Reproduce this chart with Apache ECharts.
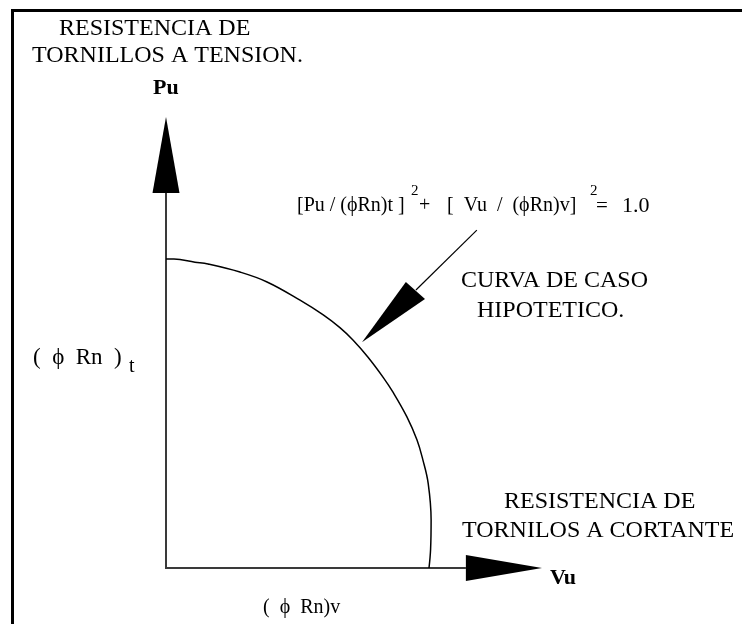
<!DOCTYPE html>
<html>
<head>
<meta charset="utf-8">
<script src="https://cdn.jsdelivr.net/npm/echarts@6/dist/echarts.min.js"></script>
<style>
  html, body { margin: 0; padding: 0; background: #ffffff; }
  #chart { width: 742px; height: 624px; }
</style>
</head>
<body>
<div id="chart"></div>
<script>
// Interaction curve, expressed as ratios Vu/(ϕRn)v and Pu/(ϕRn)t
const vuRatio = [0, 0.03, 0.109, 0.158, 0.278, 0.380, 0.504, 0.590, 0.654, 0.703, 0.759, 0.816, 0.853, 0.906, 0.944, 0.966, 0.986, 0.997, 0.995, 0.989];
const puRatio = [1.0, 1.0, 0.990, 0.984, 0.958, 0.926, 0.867, 0.820, 0.778, 0.738, 0.683, 0.618, 0.570, 0.489, 0.414, 0.350, 0.274, 0.155, 0.060, 0];

// Axis extents (ratio units)
const vuMax = 1.414;
const puMax = 1.46;

// Arrowheads of both axes, in ratio units
const puArrow = { tipY: puMax, baseY: 1.2136, half: 0.0508 };
const vuArrow = { tipX: vuMax, baseX: 1.1278, half: 0.042 };

// Pointer from the equation to the curve
const pointerLine = [[1.169, 1.094], [0.94, 0.90]];
const pointerHead = [[0.737, 0.731], [0.902, 0.926], [0.974, 0.871]];

const serif = '"Liberation Serif", "Times New Roman", serif';

const curve = vuRatio.map((v, i) => [v, puRatio[i]]);

const chart = echarts.init(document.getElementById('chart'), null, { renderer: 'canvas' });

function txt(text, x, y, size, weight) {
  return {
    type: 'text',
    left: x,
    top: y,
    style: {
      text: text,
      fill: '#000',
      font: (weight || 'normal') + ' ' + size + 'px ' + serif
    }
  };
}

const option = {
  backgroundColor: '#ffffff',
  animation: false,
  grid: { left: 166, top: 117, width: 376, height: 451, containLabel: false },
  xAxis: {
    type: 'value', min: 0, max: vuMax,
    axisLine: { show: false }, axisTick: { show: false },
    axisLabel: { show: false }, splitLine: { show: false }
  },
  yAxis: {
    type: 'value', min: 0, max: puMax,
    axisLine: { show: false }, axisTick: { show: false },
    axisLabel: { show: false }, splitLine: { show: false }
  },
  series: [
    {
      // axes, arrowheads and pointer
      type: 'custom',
      silent: true,
      data: [[0, 0]],
      renderItem: function (params, api) {
        const c = (p) => api.coord(p);
        const o = c([0, 0]);
        const axisStyle = { stroke: '#3a3a3a', lineWidth: 2 };
        return {
          type: 'group',
          children: [
            { type: 'line', shape: { x1: o[0], y1: o[1], x2: o[0], y2: c([0, puArrow.baseY])[1] }, style: axisStyle },
            { type: 'line', shape: { x1: o[0] - 1, y1: o[1], x2: c([vuArrow.baseX, 0])[0], y2: o[1] }, style: axisStyle },
            { type: 'polygon', shape: { points: [c([0, puArrow.tipY]), c([puArrow.half, puArrow.baseY]), c([-puArrow.half, puArrow.baseY])] }, style: { fill: '#000' } },
            { type: 'polygon', shape: { points: [c([vuArrow.tipX, 0]), c([vuArrow.baseX, vuArrow.half]), c([vuArrow.baseX, -vuArrow.half])] }, style: { fill: '#000' } },
            { type: 'line', shape: { x1: c(pointerLine[0])[0], y1: c(pointerLine[0])[1], x2: c(pointerLine[1])[0], y2: c(pointerLine[1])[1] }, style: { stroke: '#000', lineWidth: 1.2 } },
            { type: 'polygon', shape: { points: pointerHead.map(c) }, style: { fill: '#000' } }
          ]
        };
      }
    },
    {
      type: 'line',
      data: curve,
      smooth: 0.4,
      symbol: 'none',
      silent: true,
      lineStyle: { color: '#000', width: 1.5 }
    }
  ],
  graphic: [
    { type: 'rect', left: 11, top: 9, shape: { width: 3, height: 615 }, style: { fill: '#000' } },
    { type: 'rect', left: 11, top: 9, shape: { width: 731, height: 3 }, style: { fill: '#000' } },

    txt('RESISTENCIA DE', 59, 17, 24),
    txt('TORNILLOS A TENSION.', 32, 44, 24),
    txt('Pu', 153, 77, 22, 'bold'),

    // interaction equation
    txt('[Pu / (ϕRn)t ]', 297, 196, 20),
    txt('2', 411, 184, 15),
    txt('+', 419, 196, 20),
    txt('[  Vu  /  (ϕRn)v]', 447, 196, 20),
    txt('2', 590, 184, 15),
    txt('=', 596, 196, 21),
    txt('1.0', 622, 195, 22),

    txt('CURVA DE CASO', 461, 269, 24),
    txt('HIPOTETICO.', 477, 299, 24),
    txt('RESISTENCIA DE', 504, 490, 24),
    txt('TORNILOS A CORTANTE', 462, 519, 24),
    txt('Vu', 550, 567, 22, 'bold'),

    txt('(  ϕ  Rn  )', 33, 346, 23),
    txt('t', 129, 357, 20),
    txt('(  ϕ  Rn)v', 263, 598, 20)
  ]
};

chart.setOption(option);
</script>
</body>
</html>
